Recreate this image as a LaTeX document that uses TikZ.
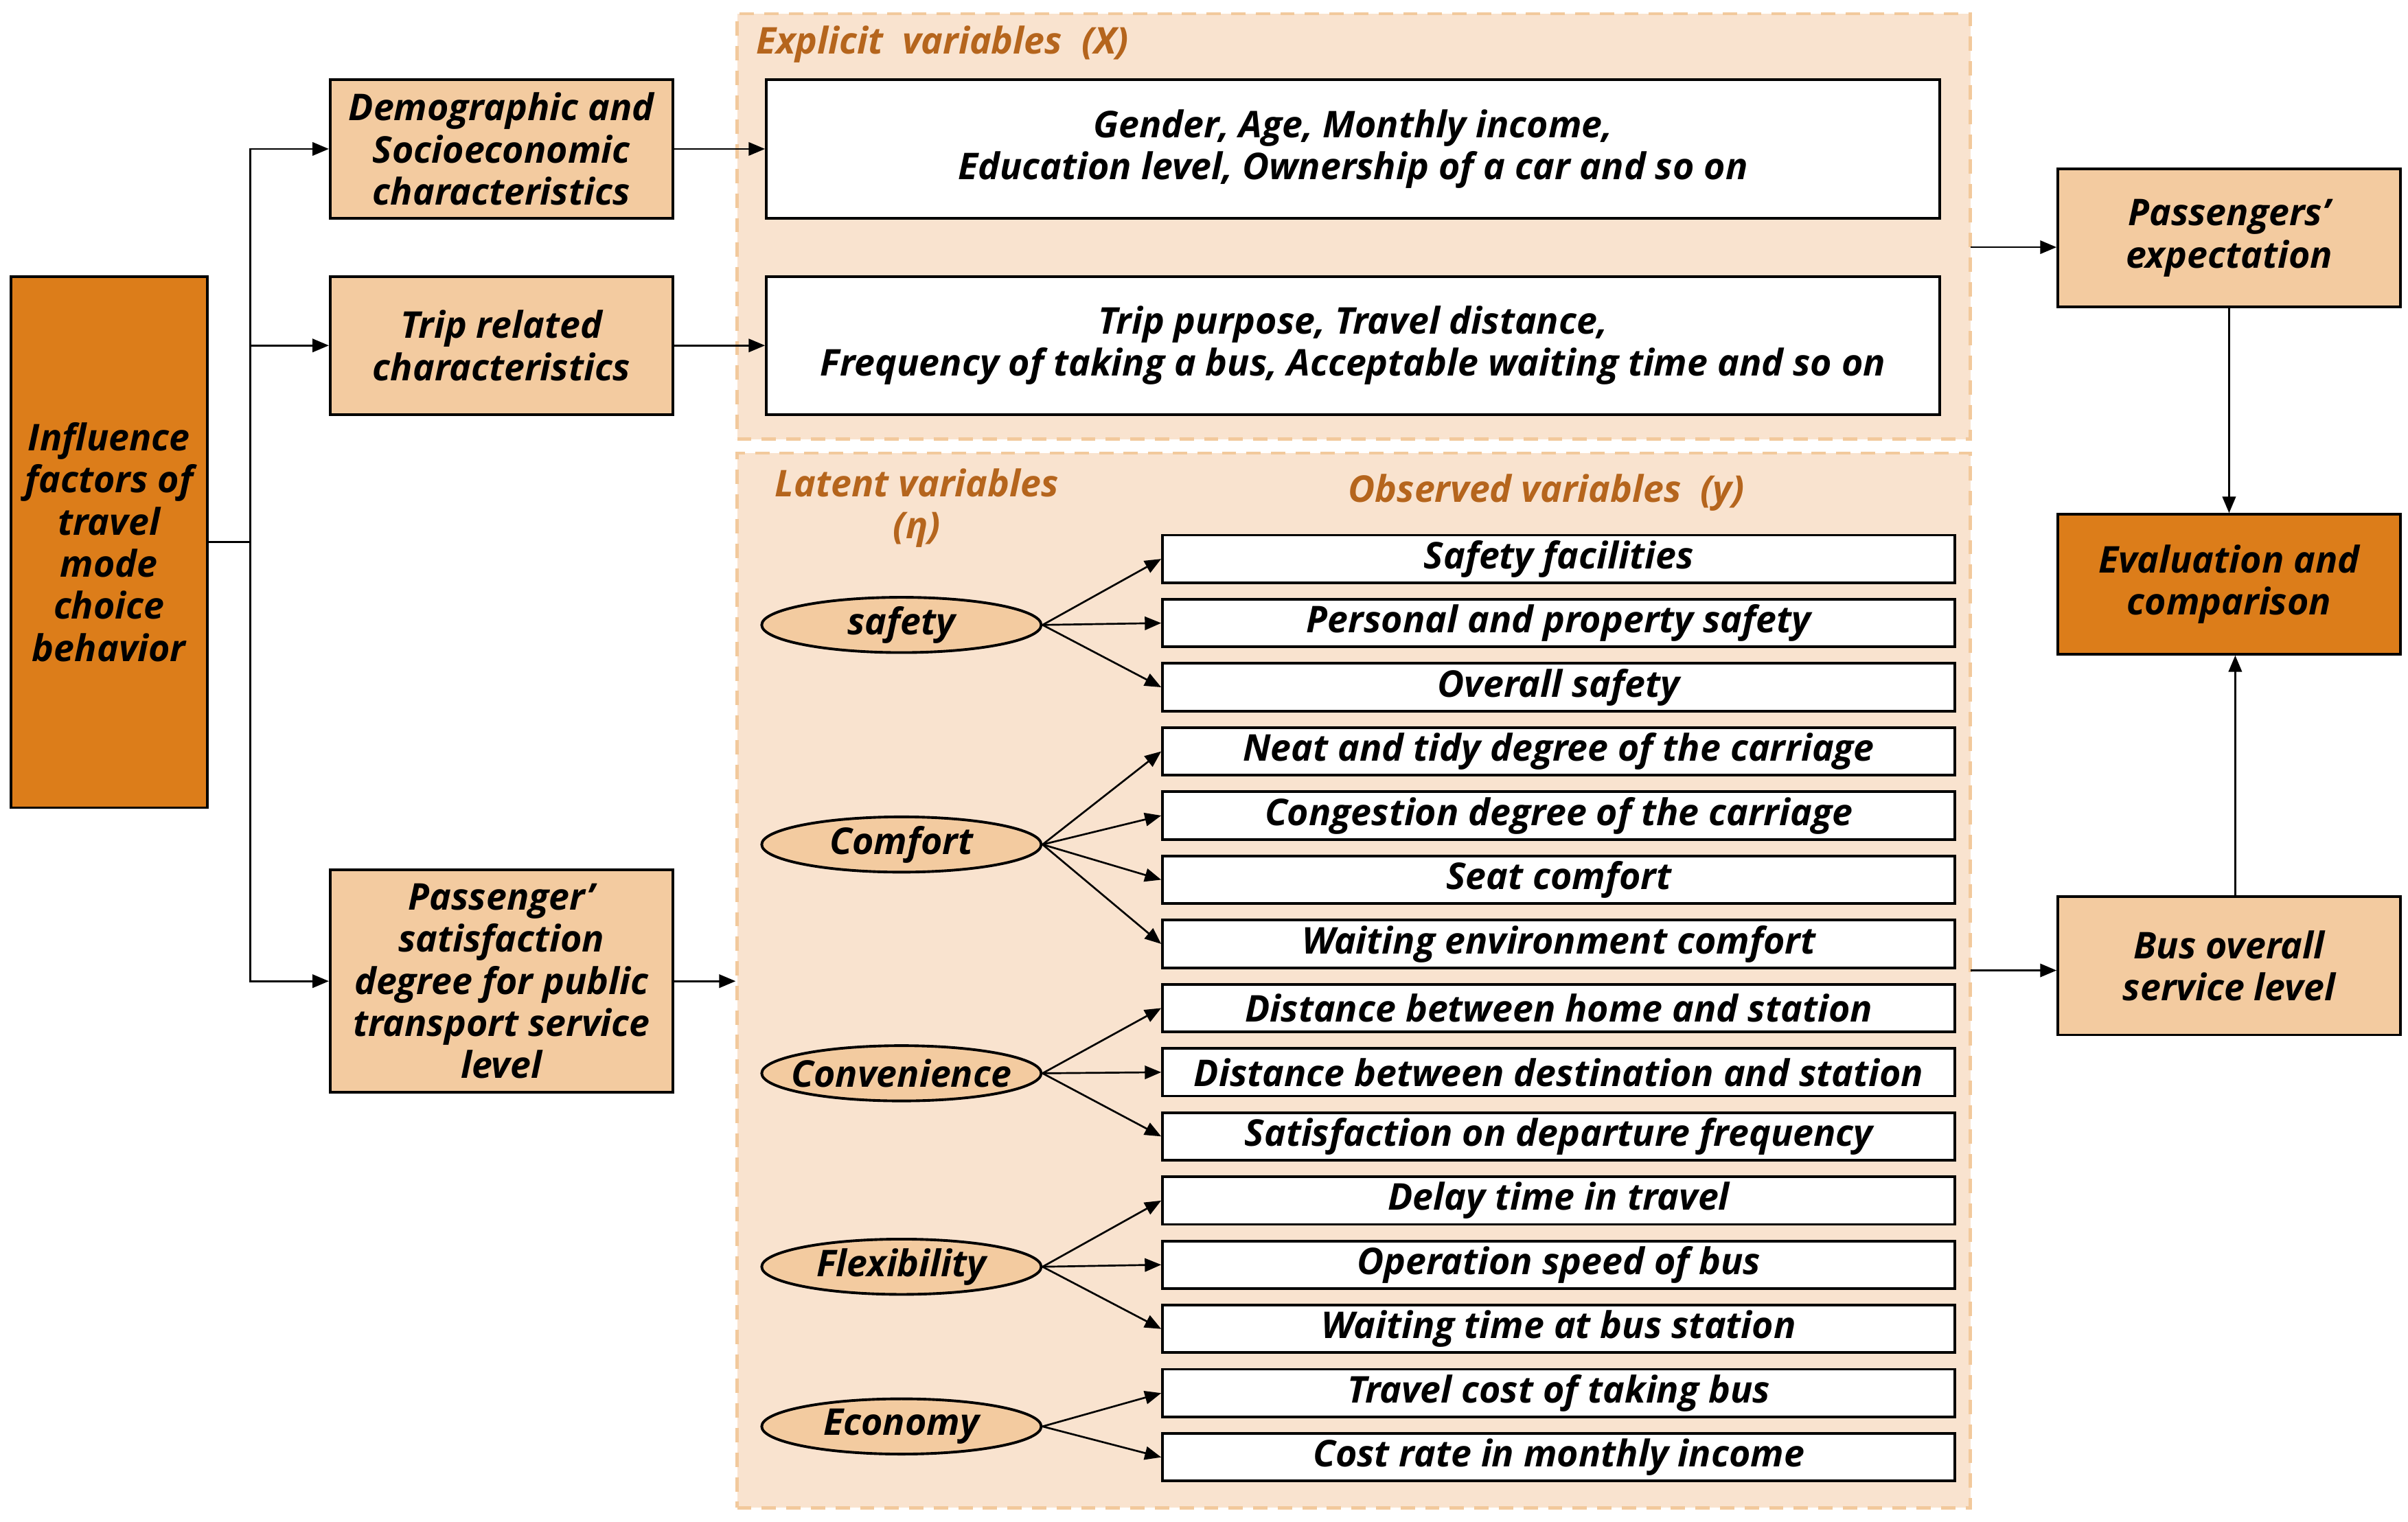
\documentclass[tikz,border=0pt]{standalone}
\usepackage{fontspec}
\setmainfont{Open Sans}
\usetikzlibrary{arrows.meta,shapes.geometric}

\definecolor{darkorg}{RGB}{220,125,26}
\definecolor{lightorg}{RGB}{243,203,160}
\definecolor{panelfill}{RGB}{249,227,207}
\definecolor{paneldash}{RGB}{242,201,156}
\definecolor{titlebrown}{RGB}{181,101,29}

\begin{document}
\begin{tikzpicture}[x=0.75pt,y=0.75pt,yscale=-1,xscale=1,
  font=\fontsize{18}{20.6}\selectfont\bfseries\itshape,
  box/.style={draw,line width=1.3pt,align=center,inner sep=0pt,minimum width=223*0.75pt,minimum height=90*0.75pt,fill=lightorg},
  whitebox/.style={draw,line width=1.3pt,align=center,inner sep=0pt,fill=white},
  panel/.style={draw=paneldash,fill=panelfill,line width=1.5pt,dash pattern=on 7pt off 5pt,minimum width=803*0.75pt},
  latent/.style={ellipse,draw,line width=1.3pt,fill=lightorg,inner sep=0pt,minimum width=182*0.75pt,minimum height=36*0.75pt,label={center:#1}},
  title/.style={text=titlebrown,inner sep=0pt,align=center},
  arr/.style={line width=0.9pt,-{Triangle[length=8pt,width=6.5pt]}}]
\useasboundingbox (0,0) rectangle (1568,991);

%Panels
\node[panel,minimum height=277*0.75pt] (pX) at (881.5,147.5) {};
\node[panel,minimum height=687*0.75pt] (pY) at (881.5,638.5) {};

%Left column
\node[box,fill=darkorg,minimum width=128*0.75pt,minimum height=346*0.75pt] (infl) at (71,353) {Influence\\factors of\\travel\\mode\\choice\\behavior};
\node[box] (demo) at (326.5,97) {Demographic and\\Socioeconomic\\characteristics};
\node[box] (trip) at (326.5,225) {Trip related\\characteristics};
\node[box,minimum height=145*0.75pt] (pass) at (326.5,639) {Passenger’\\satisfaction\\degree for public\\transport service\\level};

%Explicit variables
\node[title,anchor=west] (tX) at (492,29) {Explicit~~variables~~(X)};
\node[whitebox,minimum width=764*0.75pt,minimum height=90*0.75pt] (gen) at (881,97) {Gender, Age, Monthly income,\\Education level, Ownership of a car and so on};
\node[whitebox,minimum width=764*0.75pt,minimum height=90*0.75pt] (tripv) at (881,225) {Trip purpose, Travel distance,\\Frequency of taking a bus, Acceptable waiting time and so on};

%Latent and observed variables
\node[title] (tEta) at (597,331) {Latent variables\\(η)};
\node[title] (tY) at (1007,321) {Observed variables~~(y)};

\foreach \txt [count=\i] in {Safety facilities,Personal and property safety,Overall safety,Neat and tidy degree of the carriage,Congestion degree of the carriage,Seat comfort,Waiting environment comfort,Distance between home and station,Distance between destination and station,Satisfaction on departure frequency,Delay time in travel,Operation speed of bus,Waiting time at bus station,Travel cost of taking bus,Cost rate in monthly income}
  \node[whitebox,minimum width=516*0.75pt,minimum height=31*0.75pt] (o\i) at (1015,{364+41.79*(\i-1)}) {\txt};

\node[latent=safety] (l1) at (587,407) {};
\node[latent=Comfort] (l2) at (587,550) {};
\node[latent=Convenience] (l3) at (587,699) {};
\node[latent=Flexibility] (l4) at (587,825) {};
\node[latent=Economy] (l5) at (587,929) {};

\foreach \a/\b in {1/1,1/2,1/3,2/4,2/5,2/6,2/7,3/8,3/9,3/10,4/11,4/12,4/13,5/14,5/15}
  \draw[arr] (l\a.east) -- (o\b.west);

%Right column
\node[box] (expect) at (1451.5,155) {Passengers’\\expectation};
\node[box,fill=darkorg,minimum height=91*0.75pt] (eval) at (1451.5,380.5) {Evaluation and\\comparison};
\node[box] (bus) at (1451.5,629) {Bus overall\\service level};

%Connectors
\coordinate (tk) at (163,353);
\coordinate (ex) at (1283,161);
\coordinate (bx) at (1283,632);
\draw[line width=0.9pt] (infl.east) -- (tk);
\draw[arr] (tk) |- (demo.west);
\draw[arr] (tk |- trip.west) -- (trip.west);
\draw[arr] (tk) |- (pass.west);
\draw[arr] (demo.east) -- (gen.west);
\draw[arr] (trip.east) -- (tripv.west);
\draw[arr] (pass.east) -- (pass.east -| pY.west);
\draw[arr] (ex) -- (ex -| expect.west);
\draw[arr] (bx) -- (bx -| bus.west);
\draw[arr] (expect.south) -- (eval.north);
\draw[arr] ([xshift=3pt]bus.north) -- ([xshift=3pt]eval.south);

\end{tikzpicture}
\end{document}
